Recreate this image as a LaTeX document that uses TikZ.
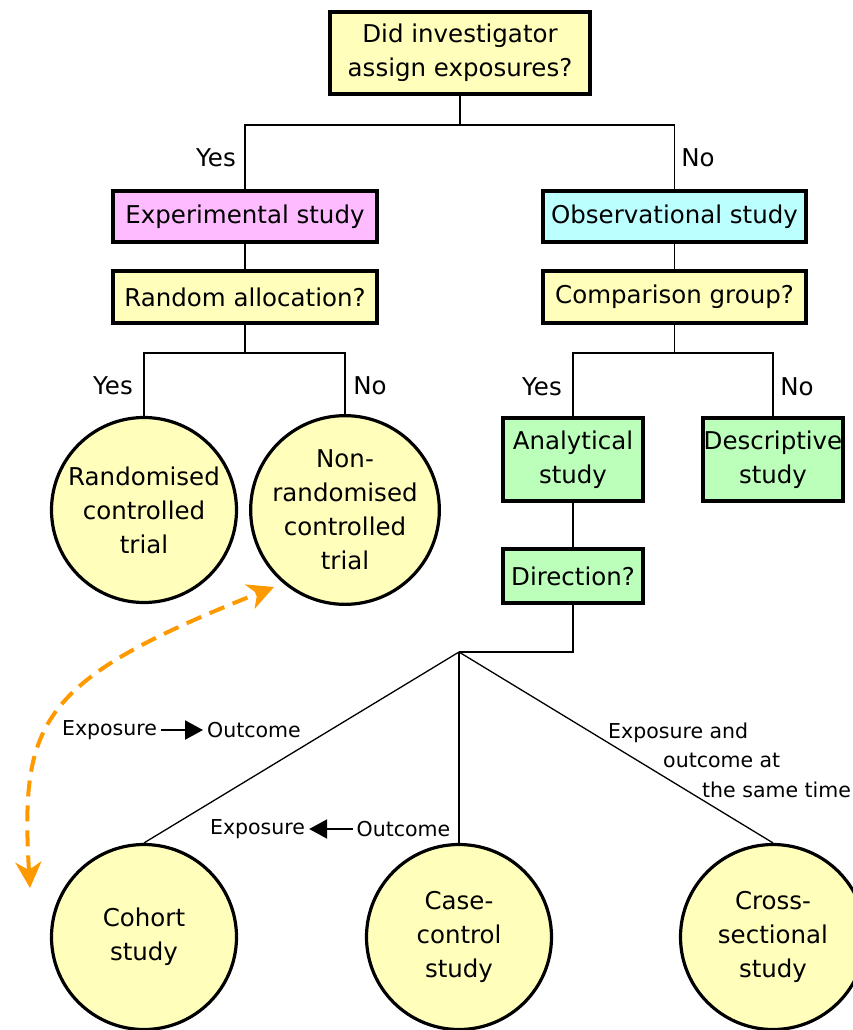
\documentclass[tikz,border=0pt]{standalone}
\usepackage{fontspec}
\setmainfont{DejaVu Sans}
\usetikzlibrary{arrows.meta}
\definecolor{qyellow}{HTML}{FFFFBB}
\definecolor{qpink}{HTML}{FFBBFF}
\definecolor{qcyan}{HTML}{BBFFFF}
\definecolor{qgreen}{HTML}{BBFFBB}
\definecolor{qorange}{HTML}{FF9900}
\def\bigfont{\fontsize{24.5}{34}\selectfont}
\def\smallfont{\fontsize{20.5}{29.5}\selectfont}

\begin{document}
\begin{tikzpicture}[x=1pt,y=-1pt,
    box/.style={draw,line width=3.2pt,font=\bigfont,align=center,inner sep=0pt},
    study/.style={circle,draw,line width=3.2pt,fill=qyellow,minimum size=185pt,
      font=\bigfont,align=center,inner sep=0pt},
    answer/.style={font=\bigfont,inner sep=0pt},
    link/.style={line width=1.3pt},
    dirlabel/.style={font=\smallfont,inner sep=2pt},
    dirtip/.style={line width=2pt,#1,shorten <=2pt,shorten >=2pt}]
        \useasboundingbox (0,0) rectangle (852,1030);
        % question boxes
        \node[box,fill=qyellow,minimum width=260pt,minimum height=82pt] (assign) at (460,53) {Did investigator\\assign exposures?};
        \node[box,fill=qpink,minimum width=264pt,minimum height=51pt] (exper) at (245,216.5) {Experimental study};
        \node[box,fill=qcyan,minimum width=263pt,minimum height=51pt] (observ) at (674.5,216.5) {Observational study};
        \node[box,fill=qyellow,minimum width=264pt,minimum height=52pt] (random) at (245,297) {Random allocation?};
        \node[box,fill=qyellow,minimum width=263pt,minimum height=52pt] (compar) at (674.5,297) {Comparison group?};
        \node[box,fill=qgreen,minimum width=140pt,minimum height=83pt] (analyt) at (573,459.5) {Analytical\\study};
        \node[box,fill=qgreen,minimum width=140pt,minimum height=83pt] (descr) at (773,459.5) {Descriptive\\study};
        \node[box,fill=qgreen,minimum width=140pt,minimum height=54pt] (direct) at (573,576) {Direction?};
        % study designs
        \node[study] (rct) at (144,510) {Randomised\\controlled\\trial};
        \node[study] (nrct) at (345,510) {Non-\\randomised\\controlled\\trial};
        \node[study] (cohort) at (144,937) {Cohort\\study};
        \node[study] (casec) at (459,937) {Case-\\control\\study};
        \node[study] (cross) at (773,937) {Cross-\\sectional\\study};
        % branches
        \coordinate (fork1) at (460,125);
        \coordinate (fork2) at (245,353);
        \coordinate (fork3) at (674.5,353);
        \coordinate (fork4) at (459,652);
        \draw[link] (assign.south) -- (fork1) -| (exper.north);
        \draw[link] (fork1) -| (observ.north);
        \draw[link] (exper) -- (random);
        \draw[link] (observ) -- (compar);
        \draw[link] (random.south) -- (fork2) -| (rct.north);
        \draw[link] (fork2) -| (nrct.north);
        \draw[link] (compar.south) -- (fork3) -| (analyt.north);
        \draw[link] (fork3) -| (descr.north);
        \draw[link] (analyt) -- (direct);
        \draw[link] (direct.south) |- (fork4);
        \draw[link] (fork4) -- (cohort.north);
        \draw[link] (fork4) -- (casec.north);
        \draw[link] (fork4) -- (cross.north);
        % yes / no
        \node[answer] (yes1) at (216,158) {Yes};
        \node[answer] (no1) at (698,158) {No};
        \node[answer] (yes2) at (113,386) {Yes};
        \node[answer] (no2) at (370,386) {No};
        \node[answer] (yes3) at (542,387) {Yes};
        \node[answer] (no3) at (797,387) {No};
        % directions
        \node[dirlabel] (expo1) at (109.5,730) {Exposure};
        \node[dirlabel] (outc1) at (254,730) {Outcome};
        \draw[dirtip=-{Triangle[length=18pt,width=19pt]}] (expo1) -- (outc1);
        \node[dirlabel] (expo2) at (257.5,829) {Exposure};
        \node[dirlabel] (outc2) at (403.5,829) {Outcome};
        \draw[dirtip={Triangle[length=18pt,width=19pt]}-] (expo2) -- (outc2);
        \node[dirlabel,anchor=west,align=left] (same) at (606,760) {Exposure and\\\hspace*{55pt}outcome at\\\hspace*{94pt}the same time};
        % both trials compared with cohort
        \coordinate (arrA) at (30,888);
        \coordinate (arrB) at (274,587);
        \draw[qorange,line width=4pt,dash pattern=on 16pt off 9pt,{Stealth[length=26pt,width=26pt,inset=8pt]}-{Stealth[length=26pt,width=26pt,inset=8pt]}]
          (arrA) .. controls (20,720) and (40,680) .. (arrB);
\end{tikzpicture}
\end{document}
